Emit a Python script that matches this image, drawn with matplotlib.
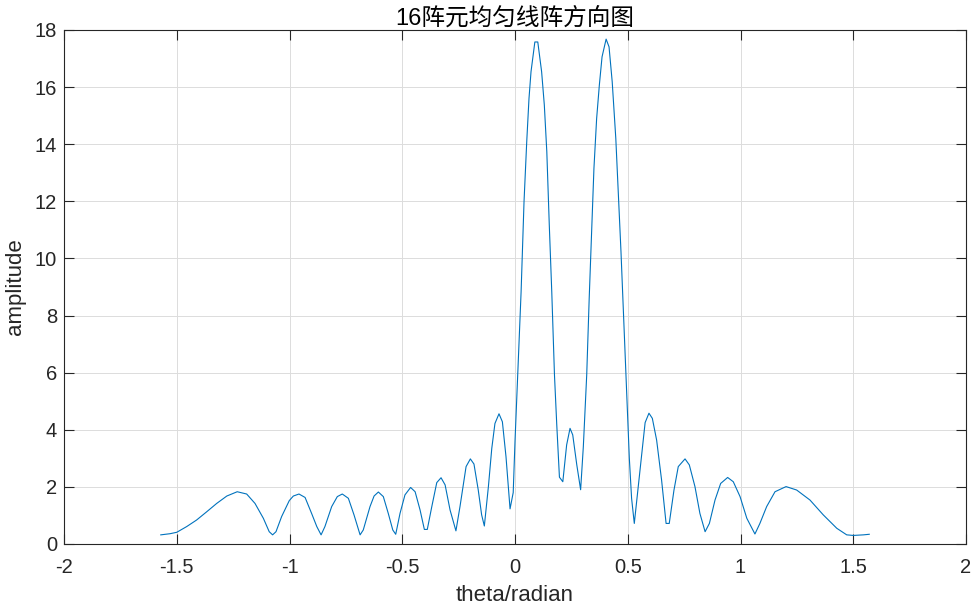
import matplotlib
matplotlib.use("Agg")
import matplotlib.pyplot as plt

# values (theta in radians, amplitude)
theta = [
    -1.571, -1.530, -1.500, -1.456, -1.412, -1.367, -1.323, -1.278, -1.232, -1.190,
    -1.153, -1.116, -1.090, -1.075, -1.060, -1.035, -1.001, -0.983, -0.958, -0.931,
    -0.902, -0.879, -0.860, -0.843, -0.813, -0.788, -0.766, -0.739, -0.714, -0.687,
    -0.673, -0.643, -0.625, -0.606, -0.584, -0.562, -0.542, -0.529, -0.510, -0.488,
    -0.463, -0.443, -0.421, -0.402, -0.389, -0.369, -0.347, -0.328, -0.310, -0.288,
    -0.262, -0.244, -0.217, -0.198, -0.182, -0.163, -0.148, -0.136, -0.118, -0.103,
    -0.089, -0.071, -0.056, -0.040, -0.022, -0.008, 0.000, 0.015, 0.027, 0.040,
    0.052, 0.062, 0.071, 0.088, 0.101, 0.118, 0.130, 0.141, 0.152, 0.163,
    0.175, 0.185, 0.197, 0.212, 0.229, 0.244, 0.256, 0.274, 0.291, 0.303,
    0.318, 0.329, 0.340, 0.350, 0.362, 0.374, 0.386, 0.404, 0.417, 0.431,
    0.447, 0.458, 0.470, 0.483, 0.495, 0.507, 0.517, 0.529, 0.562, 0.577,
    0.594, 0.609, 0.628, 0.650, 0.670, 0.684, 0.705, 0.724, 0.754, 0.773,
    0.798, 0.820, 0.843, 0.862, 0.887, 0.912, 0.943, 0.968, 0.998, 1.028,
    1.064, 1.086, 1.116, 1.153, 1.202, 1.249, 1.308, 1.367, 1.427, 1.471,
    1.500, 1.545, 1.571,
]
amplitude = [
    0.32, 0.36, 0.41, 0.61, 0.84, 1.13, 1.42, 1.68, 1.83, 1.75,
    1.42, 0.90, 0.43, 0.32, 0.43, 0.96, 1.52, 1.68, 1.75, 1.63,
    1.07, 0.61, 0.32, 0.61, 1.31, 1.66, 1.75, 1.60, 1.02, 0.32,
    0.49, 1.31, 1.68, 1.82, 1.66, 1.07, 0.49, 0.34, 1.07, 1.72,
    1.98, 1.83, 1.19, 0.51, 0.51, 1.31, 2.15, 2.32, 2.07, 1.19,
    0.46, 1.31, 2.71, 2.98, 2.80, 1.89, 1.02, 0.63, 2.01, 3.35,
    4.22, 4.56, 4.28, 3.06, 1.23, 1.80, 3.60, 6.50, 8.83, 11.99,
    14.09, 15.60, 16.54, 17.58, 17.58, 16.54, 15.37, 13.74, 11.17, 8.83,
    5.92, 4.20, 2.34, 2.18, 3.47, 4.05, 3.82, 2.77, 1.90, 3.41,
    5.92, 8.60, 10.94, 13.15, 14.90, 16.07, 17.06, 17.68, 17.41, 16.19,
    14.20, 12.34, 10.23, 7.67, 5.33, 3.00, 1.60, 0.72, 3.17, 4.25,
    4.58, 4.40, 3.64, 2.24, 0.72, 0.72, 1.89, 2.71, 2.98, 2.77,
    2.01, 1.07, 0.43, 0.72, 1.54, 2.12, 2.33, 2.18, 1.66, 0.90,
    0.35, 0.72, 1.31, 1.83, 2.01, 1.89, 1.54, 1.02, 0.55, 0.32,
    0.30, 0.32, 0.34,
]

x_ticks = [-2, -1.5, -1, -0.5, 0, 0.5, 1, 1.5, 2]
x_tick_labels = ["-2", "-1.5", "-1", "-0.5", "0", "0.5", "1", "1.5", "2"]
y_ticks = [0, 2, 4, 6, 8, 10, 12, 14, 16, 18]

plt.rcParams['font.family'] = ['Liberation Sans', 'Noto Sans CJK SC', 'DejaVu Sans']

fig = plt.figure(figsize=(9.73, 6.07), dpi=100)
ax = fig.add_axes([0.0658, 0.1038, 0.9270, 0.8468])

ax.plot(theta, amplitude, color='#0072BD', linewidth=0.8)

ax.set_xlim(-2, 2)
ax.set_ylim(0, 18)
ax.set_xticks(x_ticks)
ax.set_xticklabels(x_tick_labels)
ax.set_yticks(y_ticks)

ax.grid(True, color='#dcdcdc', linewidth=0.7)
ax.set_axisbelow(True)
for side in ax.spines.values():
    side.set_color('#262626')
    side.set_linewidth(0.8)
ax.tick_params(direction='in', length=7.5, width=0.8, colors='#262626',
               labelsize=14.5, top=True, right=True)
ax.tick_params(axis='x', pad=10)
ax.tick_params(axis='y', pad=5)

ax.set_title("16阵元均匀线阵方向图", fontsize=17, color='#000000', pad=4)
ax.set_xlabel("theta/radian", fontsize=16, color='#262626', labelpad=6)
ax.set_ylabel("amplitude", fontsize=16, color='#262626', labelpad=6)

fig.savefig("out.png", dpi=100)
